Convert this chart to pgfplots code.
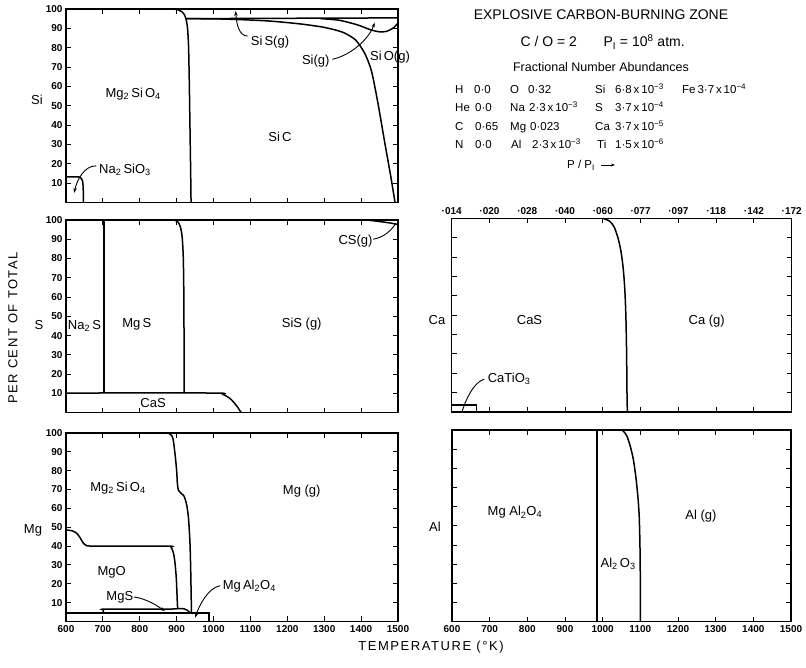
\documentclass[border=0pt]{standalone}
\usepackage{pgfplots}
\pgfplotsset{compat=1.18}
\usepackage{fontspec}
\setmainfont{Liberation Sans}
\newfontfamily\spaced[LetterSpace=12]{Liberation Sans}
\usetikzlibrary{arrows.meta}
\newcommand\sub[1]{\textsubscript{#1}}
\newcommand\sups[1]{\textsuperscript{#1}}
\pgfplotsset{
  panel/.style={
    scale only axis, anchor=south west,
    xmin=600, xmax=1500, ymin=0, ymax=100,
    xtick={600,700,...,1500}, ytick={10,20,...,100},
    tick align=inside, major tick length=5pt,
    axis line style={line width=1.1pt},
    every tick/.style={black, line width=1pt},
    /pgf/number format/assume math mode=true,
    /pgf/number format/1000 sep={},
    tick label style={font=\fontsize{10}{10}\selectfont\bfseries},
    clip=false,
  },
  bnd/.style={black, line width=1.5pt, no markers, smooth, tension=0.45},
  sbnd/.style={black, line width=1.5pt, no markers, sharp plot},
}
\tikzset{
  lab/.style={font=\fontsize{13}{13}\selectfont},
  ldr/.style={black, line width=0.9pt, -{Stealth[length=5pt,width=3.5pt]}},
}
\begin{document}
\begin{tikzpicture}
\path[use as bounding box] (0pt,0pt) rectangle (806pt,668pt);

% ---------------- Si panel
\begin{axis}[panel, at={(66pt,465.4pt)}, width=332pt, height=193.6pt, xticklabels={}]
\addplot[bnd] coordinates {(600,13.3) (634,13.3) (641,12.6) (645,11) (646.5,8) (647,4) (647,0)};
\addplot[bnd] coordinates {(888,100) (903,99.6) (914,98.6) (921,97) (925,95) (929,91) (932,82) (934,65) (936,40) (938,15) (939,0)};
\addplot[sbnd] coordinates {(925,95) (1200,95.2) (1500,95.4)};
\addplot[bnd] coordinates {(925,95) (1000,94.9) (1060,94.6) (1150,93.8) (1234,92.3) (1300,90.5) (1350,88) (1385,84) (1410,77) (1428,68) (1445,52) (1465,30) (1480,14) (1492,0)};
\addplot[bnd] coordinates {(1290,95) (1340,94.2) (1390,91.8) (1425,89.3) (1450,88.2) (1470,88.5) (1488,90.3) (1500,92.8)};
\node[lab] at (axis cs:782,56) {Mg\sub{2}\,Si\,O\sub{4}};
\node[lab] at (axis cs:1180,34) {Si\,C};
\node[lab] at (axis cs:760,17) {Na\sub{2}\,SiO\sub{3}};
\node[lab] at (axis cs:1153,83) {Si\,S(g)};
\node[lab] at (axis cs:1277,73) {Si(g)};
\node[lab, anchor=west, inner sep=0pt] at (axis cs:1424,75) {Si\,O(g)};
\draw[ldr] (axis cs:682,19) .. controls (axis cs:650,19) and (axis cs:630,12) .. (axis cs:622,5);
\draw[ldr] (axis cs:1092,86) .. controls (axis cs:1070,86) and (axis cs:1062,92) .. (axis cs:1060,99);
\draw[ldr] (axis cs:1322,74) .. controls (axis cs:1370,76) and (axis cs:1420,84) .. (axis cs:1437,93);
\end{axis}

% ---------------- S panel
\begin{axis}[panel, at={(66pt,255.3pt)}, width=332pt, height=192.7pt, xticklabels={}]
\addplot[sbnd] coordinates {(703,10) (703,100)};
\addplot[bnd] coordinates {(893,100) (903,99) (910,96.5) (915,91) (918,80) (919.5,60) (920,35) (920,10)};
\addplot[bnd] coordinates {(600,10.2) (1000,10.2) (1025,9.5) (1045,7.3) (1060,4.2) (1070,1.5) (1075,0)};
\addplot[bnd] coordinates {(1415,100) (1450,99.2) (1480,98.4) (1500,97.6)};
\node[lab] at (axis cs:650,45) {Na\sub{2}\,S};
\node[lab] at (axis cs:792,46) {Mg\,S};
\node[lab] at (axis cs:1239,46) {SiS (g)};
\node[lab] at (axis cs:836,5) {CaS};
\node[lab] at (axis cs:1385,89) {CS(g)};
\draw[black, line width=0.9pt] (axis cs:1433,90) .. controls (axis cs:1460,91) and (axis cs:1480,94) .. (axis cs:1495,98.5);
\end{axis}

% ---------------- Mg panel
\begin{axis}[panel, at={(66pt,46.5pt)}, width=332pt, height=188.5pt]
\addplot[bnd] coordinates {(868,100) (880,99.7) (887,98.5) (891,96) (896,88) (900,80) (902,73) (905,69.5) (912,68) (920,66.5) (927,62) (932,55) (936,42) (938,28) (939.5,12) (940,4.6)};
\addplot[bnd] coordinates {(600,48.5) (615,48.2) (628,47) (638,44.5) (647,41.5) (655,40.3) (680,40) (875,40) (885,39.3) (891,36.5) (895,32) (899,23) (901,14) (902,9) (903,6.6)};
\addplot[sbnd] coordinates {(600,4.6) (988,4.6) (988,0)};
\addplot[bnd] coordinates {(700,4.6) (702,6.2) (708,6.6) (880,6.6) (905,6.9) (920,6.7) (930,5.8) (936,4.6)};
\node[lab] at (axis cs:741,71) {Mg\sub{2}\,Si\,O\sub{4}};
\node[lab] at (axis cs:1239,69) {Mg (g)};
\node[lab] at (axis cs:724,26) {MgO};
\node[lab] at (axis cs:746,13) {MgS};
\node[lab] at (axis cs:1097,19) {Mg\,Al\sub{2}O\sub{4}};
\draw[ldr] (axis cs:785,13) .. controls (axis cs:820,12) and (axis cs:850,8) .. (axis cs:868,5.5);
\draw[ldr] (axis cs:1018,19) .. controls (axis cs:985,18) and (axis cs:960,8) .. (axis cs:950,2);
\end{axis}

% ---------------- Ca panel
\begin{axis}[panel, at={(451.7pt,256pt)}, width=340pt, height=193.7pt, yticklabels={},
  xticklabel pos=upper,
  xticklabels={·014,·020,·028,·040,·060,·077,·097,·118,·142,·172}]
\addplot[bnd] coordinates {(1000,100) (1018,98.5) (1030,95.5) (1040,90) (1048,83) (1054,74) (1058,64) (1061,50) (1063,30) (1064,10) (1065,0)};
\addplot[sbnd] coordinates {(600,3.7) (666,3.7) (666,0)};
\node[lab] at (axis cs:806,47.5) {CaS};
\node[lab] at (axis cs:1275,47) {Ca (g)};
\node[lab] at (axis cs:752,17) {CaTiO\sub{3}};
\draw[black, line width=0.9pt] (axis cs:686,17) .. controls (axis cs:655,15) and (axis cs:635,5) .. (axis cs:628,0.5);
\end{axis}

% ---------------- Al panel
\begin{axis}[panel, at={(452pt,46.3pt)}, width=339pt, height=191.7pt, yticklabels={}]
\addplot[sbnd] coordinates {(985,0) (985,100)};
\addplot[bnd] coordinates {(1052,100) (1064,97) (1074,91) (1082,84) (1089,74) (1094,64) (1097,55) (1099,40) (1100,20) (1100,0)};
\node[lab] at (axis cs:767,57) {Mg Al\sub{2}O\sub{4}};
\node[lab] at (axis cs:1261,55) {Al (g)};
\node[lab] at (axis cs:1041,30) {Al\sub{2}\,O\sub{3}};
\end{axis}

\begin{scope}[x=1pt,y=1pt]
% ---------------- side labels
\node[font=\fontsize{13}{13}\selectfont] at (37,568) {Si};
\node[font=\fontsize{13}{13}\selectfont] at (39,343) {S};
\node[font=\fontsize{13}{13}\selectfont] at (33,138) {Mg};
\node[font=\fontsize{13}{13}\selectfont] at (437,348) {Ca};
\node[font=\fontsize{13}{13}\selectfont] at (435,141) {Al};
\node[rotate=90, font=\fontsize{13}{13}\spaced] at (13,340) {PER CENT OF TOTAL};
\node[font=\fontsize{13}{13}\spaced] at (431,21) {TEMPERATURE (°K)};

% ---------------- text block
\node[font=\fontsize{14}{14}\selectfont] at (601,653) {EXPLOSIVE CARBON-BURNING ZONE};
\node[font=\fontsize{14}{14}\selectfont, anchor=base west] at (517,621) {C / O = 2};
\node[font=\fontsize{14}{14}\selectfont, anchor=base west] at (600,621) {P\sub{I} = 10\sups{8} atm.};
\node[font=\fontsize{12.5}{12.5}\selectfont] at (601,601) {Fractional Number Abundances};
\begin{scope}[every node/.style={font=\fontsize{11.5}{11.5}\selectfont, anchor=base west, inner sep=0pt}]
\node at (455,574) {H}; \node at (474,574) {0·0};
\node at (455,556) {He}; \node at (475,556) {0·0};
\node at (455,537) {C}; \node at (475,537) {0·65};
\node at (455,519) {N}; \node at (475,519) {0·0};
\node at (510,574) {O}; \node at (528,574) {0·32};
\node at (510,556) {Na}; \node at (529,556) {2·3\,x\,10\sups{−3}};
\node at (510,537) {Mg}; \node at (530,537) {0·023};
\node at (511,519) {Al}; \node at (532,519) {2·3\,x\,10\sups{−3}};
\node at (595,574) {Si}; \node at (615,574) {6·8\,x\,10\sups{−3}};
\node at (595,556) {S}; \node at (615,556) {3·7\,x\,10\sups{−4}};
\node at (595,537) {Ca}; \node at (615,537) {3·7\,x\,10\sups{−5}};
\node at (597,519) {Ti}; \node at (615,519) {1·5\,x\,10\sups{−6}};
\node at (682,574) {Fe\,3·7\,x\,10\sups{−4}};
\node at (567,499) {P / P\sub{I}};
\end{scope}
\draw[-{Stealth[length=4pt,width=3pt]}, line width=0.8pt] (601,503) -- (615,503);
\end{scope}
\end{tikzpicture}
\end{document}
